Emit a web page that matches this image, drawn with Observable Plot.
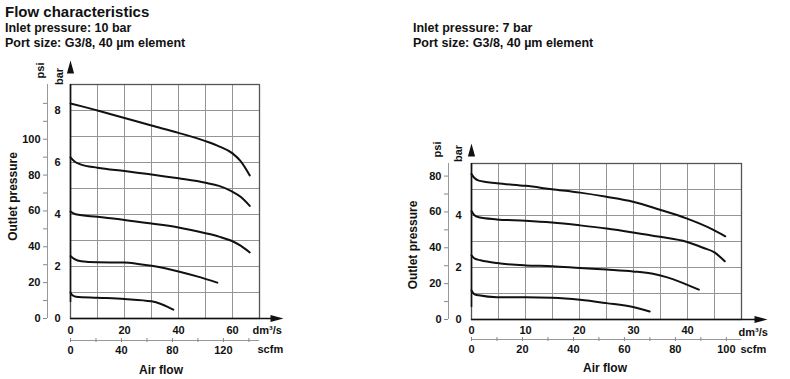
<!DOCTYPE html>
<html>
<head>
<meta charset="utf-8">
<script src="https://cdn.jsdelivr.net/npm/d3@7"></script>
<script src="https://cdn.jsdelivr.net/npm/@observablehq/plot@0.6"></script>
<style>
  body { margin: 0; background: #fff; }
  #wrap { position: relative; width: 790px; height: 379px; overflow: hidden;
          font-family: "Liberation Sans", Arial, sans-serif; color: #111; }
  .t { position: absolute; white-space: nowrap; line-height: 1; font-weight: bold; }
  .chart { position: absolute; }
</style>
</head>
<body>
<div id="wrap">
  <div class="t" style="left:5px;top:4px;font-size:15px">Flow characteristics</div>
  <div class="t" style="left:5px;top:22px;font-size:12.5px">Inlet pressure: 10 bar</div>
  <div class="t" style="left:5px;top:37px;font-size:12.5px">Port size: G3/8, 40 µm element</div>
  <div class="t" style="left:413px;top:22px;font-size:12.5px">Inlet pressure: 7 bar</div>
  <div class="t" style="left:413px;top:37px;font-size:12.5px">Port size: G3/8, 40 µm element</div>
  <div class="chart" id="left" style="left:0px;top:55px"></div>
  <div class="chart" id="right" style="left:400px;top:135px"></div>
</div>
<script>
// unit conversions
const BAR_TO_PSI = 14.5038;
const DM3S_TO_SCFM = 2.11888;

// ---------- Left chart: inlet 10 bar ----------
const leftFlowTicks = [0, 20, 40, 60];
const leftGridX = [0, 10, 20, 30, 40, 50, 60, 70];
const leftBarTicks = [0, 2, 4, 6, 8];
const leftGridY = [0, 1, 2, 3, 4, 5, 6, 7, 8, 9];
const leftPsiTicks = [0, 10, 20, 30, 40, 50, 60, 70, 80, 90, 100, 110, 120];
const leftPsiLabels = [0, 20, 40, 60, 80, 100];
const leftScfmTicks = [0, 20, 40, 60, 80, 100, 120, 140];
const leftScfmLabels = [0, 40, 80, 120];

// curves: [air flow dm3/s, outlet pressure bar]
const left8 = [[0, 8.27], [5, 8.14], [10, 8.0], [20, 7.71], [30, 7.42], [40, 7.14], [50, 6.82], [55, 6.62], [60, 6.35], [63, 6.05], [66.4, 5.5]];
const left6 = [[0, 6.2], [1.5, 6.04], [3.7, 5.93], [10, 5.8], [20, 5.67], [30, 5.54], [40, 5.39], [50, 5.22], [55, 5.1], [59.6, 4.9], [63, 4.68], [66.4, 4.33]];
const left4 = [[0, 4.11], [1.9, 4.01], [10, 3.91], [20, 3.79], [30, 3.65], [40, 3.5], [50, 3.28], [55, 3.15], [59.6, 2.99], [63, 2.8], [66.4, 2.54]];
const left2 = [[0, 2.4], [1.5, 2.28], [4, 2.2], [10, 2.16], [20, 2.15], [25, 2.1], [30, 2.03], [35, 1.93], [40, 1.81], [47.2, 1.61], [54.4, 1.38]];
const left1 = [[0, 1.0], [0.6, 0.9], [2, 0.84], [10, 0.8], [20, 0.75], [30, 0.66], [33.5, 0.56], [36, 0.45], [38.1, 0.34]];

// ---------- Right chart: inlet 7 bar ----------
const rightFlowTicks = [0, 10, 20, 30, 40];
const rightGridX = [0, 5, 10, 15, 20, 25, 30, 35, 40, 45, 50];
const rightBarTicks = [0, 2, 4];
const rightGridY = [0, 1, 2, 3, 4, 5, 6];
const rightPsiTicks = [0, 10, 20, 30, 40, 50, 60, 70, 80];
const rightPsiLabels = [0, 20, 40, 60, 80];
const rightScfmTicks = [0, 10, 20, 30, 40, 50, 60, 70, 80, 90, 100];
const rightScfmLabels = [0, 20, 40, 60, 80, 100];

const right6 = [[0, 5.59], [0.5, 5.45], [1.35, 5.34], [4.7, 5.24], [10, 5.14], [14.9, 5.01], [20.1, 4.88], [25, 4.72], [29.9, 4.53], [34.9, 4.22], [39.8, 3.89], [44.7, 3.46], [47, 3.2]];
const right4 = [[0, 4.17], [0.5, 4.02], [1.35, 3.93], [4.7, 3.85], [10, 3.8], [14.9, 3.73], [20.1, 3.62], [25, 3.5], [29.9, 3.35], [34.9, 3.18], [39.8, 2.99], [43, 2.75], [45, 2.58], [46.9, 2.24]];
const right2 = [[0, 2.47], [0.6, 2.34], [1.66, 2.28], [4.7, 2.17], [10, 2.08], [14.9, 2.05], [20.1, 1.98], [25, 1.92], [29.9, 1.85], [33.6, 1.76], [36.1, 1.63], [39.2, 1.4], [42.1, 1.15]];
const right1 = [[0, 1.12], [0.5, 0.98], [1.35, 0.93], [4.7, 0.86], [10, 0.86], [14.9, 0.84], [20.1, 0.76], [25, 0.63], [29.9, 0.48], [33, 0.31]];

const FONT = "Liberation Sans, Arial, Helvetica, sans-serif";

// elongated filled arrow head, pointing up
const arrowHead = {
  draw(context) {
    context.moveTo(0, -6.5);
    context.lineTo(3.6, 6.5);
    context.lineTo(-3.6, 6.5);
    context.closePath();
  }
};

function makeChart(c) {
  const psiPos = c.psiTicks.map(p => p / BAR_TO_PSI);
  const scfmPos = c.scfmTicks.map(s => s / DM3S_TO_SCFM);
  const xMax = c.gridX[c.gridX.length - 1];
  const yMax = c.gridY[c.gridY.length - 1];
  const curveMarks = c.curves.map(data =>
    Plot.line(data, {x: d => d[0], y: d => d[1], curve: "monotone-x", stroke: "#111", strokeWidth: 2})
  );
  return Plot.plot({
    width: c.width, height: c.height,
    marginLeft: c.ml, marginRight: c.mr, marginTop: c.mt, marginBottom: c.mb,
    x: {domain: [0, xMax], label: null},
    y: {domain: [0, yMax], label: null},
    style: {fontFamily: FONT, fontSize: "11px", fontWeight: "bold", color: "#111", background: "transparent", overflow: "visible"},
    marks: [
      // square grid (pixel-aligned, 1px)
      Plot.ruleX(c.gridX, {stroke: "#959595", strokeWidth: 1}),
      Plot.ruleY(c.gridY, {stroke: "#959595", strokeWidth: 1}),
      Plot.frame({stroke: "#555", strokeWidth: 1.3}),
      // bar axis labels
      Plot.axisY(c.barTicks, {anchor: "left", tickSize: 0, tickPadding: 10, label: null, fontSize: 11, fontWeight: "bold"}),
      // psi secondary axis
      Plot.ruleX([0], {y1: () => 0, y2: () => yMax, dx: c.psiDx, stroke: "#999", strokeWidth: 1}),
      Plot.axisY(psiPos, {anchor: "left", dx: c.psiDx, tickSize: 4, tickPadding: 3, stroke: "#888", label: null, fontSize: 11, fontWeight: "bold",
        tickFormat: d => { const p = Math.round(d * BAR_TO_PSI); return c.psiLabels.includes(p) ? String(p) : ""; }}),
      // dm3/s axis labels
      Plot.axisX(c.flowTicks, {anchor: "bottom", tickSize: 0, tickPadding: c.flowPad, label: null, fontSize: 11, fontWeight: "bold"}),
      // scfm secondary axis
      Plot.ruleY([0], {x1: () => 0, x2: () => xMax, dy: c.scfmDy + 2, stroke: "#999", strokeWidth: 1}),
      Plot.axisX(scfmPos, {anchor: "bottom", dy: c.scfmDy, tickSize: 4, tickPadding: 4, stroke: "#888", label: null, fontSize: 11, fontWeight: "bold",
        tickFormat: d => { const s = Math.round(d * DM3S_TO_SCFM); return c.scfmLabels.includes(s) ? String(s) : ""; }}),
      // unit / axis titles
      Plot.text(["dm³/s"], {frameAnchor: "bottom-right", textAnchor: "start", lineAnchor: "middle", dx: c.dmDx, dy: c.dmDy, fontSize: 11, fontWeight: "bold"}),
      Plot.text(["scfm"], {frameAnchor: "bottom-right", textAnchor: "start", lineAnchor: "middle", dx: c.scDx, dy: c.scDy, fontSize: 11, fontWeight: "bold"}),
      Plot.text(["Air flow"], {frameAnchor: "bottom", textAnchor: "middle", lineAnchor: "middle", dx: c.afDx, dy: c.afDy, fontSize: 12, fontWeight: "bold"}),
      Plot.text(["Outlet pressure"], {frameAnchor: "left", textAnchor: "middle", rotate: -90, lineAnchor: "middle", dx: c.opDx, dy: c.opDy, fontSize: 12, fontWeight: "bold"}),
      Plot.text(["psi"], {frameAnchor: "top-left", textAnchor: "middle", rotate: -90, lineAnchor: "middle", dx: c.psiLx, dy: c.psiLy, fontSize: 11, fontWeight: "bold"}),
      Plot.text(["bar"], {frameAnchor: "top-left", textAnchor: "middle", rotate: -90, lineAnchor: "middle", dx: c.barLx, dy: c.barLy, fontSize: 11, fontWeight: "bold"}),
      // main axis lines with arrows
      Plot.ruleX([0], {y1: () => 0, y2: () => yMax, insetTop: -(c.arrowUp - 8), stroke: "#111", strokeWidth: 1.6}),
      Plot.ruleY([0], {x1: () => 0, x2: () => xMax, insetRight: -(c.arrowRight - 8), stroke: "#111", strokeWidth: 1.6}),
      Plot.dot([0], {x: () => 0, y: () => yMax, dy: -(c.arrowUp - 6.5), symbol: arrowHead, fill: "#111", stroke: null, r: 5}),
      Plot.dot([0], {x: () => xMax, y: () => 0, dx: c.arrowRight - 6.5, rotate: 90, symbol: arrowHead, fill: "#111", stroke: null, r: 5}),
      ...curveMarks
    ]
  });
}

// left: 7 columns x 27px, 9 rows x 26px; right: 10 columns x 27px, 6 rows x 26px
const leftCfg = {
  width: 290, height: 324, ml: 70, mr: 31, mt: 29, mb: 61,
  gridX: leftGridX, gridY: leftGridY, barTicks: leftBarTicks, flowTicks: leftFlowTicks,
  psiTicks: leftPsiTicks, psiLabels: leftPsiLabels, scfmTicks: leftScfmTicks, scfmLabels: leftScfmLabels,
  curves: [left8, left6, left4, left2, left1],
  psiDx: -23, flowPad: 8, scfmDy: 20,
  dmDx: -7, dmDy: 12, scDx: -2, scDy: 31, afDx: -4, afDy: 52, opDx: -57, opDy: -5,
  psiLx: -30, psiLy: -14, barLx: -11, barLy: -8, arrowUp: 24, arrowRight: 24
};
const rightCfg = {
  width: 390, height: 244, ml: 71, mr: 49, mt: 28, mb: 60,
  gridX: rightGridX, gridY: rightGridY, barTicks: rightBarTicks, flowTicks: rightFlowTicks,
  psiTicks: rightPsiTicks, psiLabels: rightPsiLabels, scfmTicks: rightScfmTicks, scfmLabels: rightScfmLabels,
  curves: [right6, right4, right2, right1],
  psiDx: -23, flowPad: 7, scfmDy: 18,
  dmDx: -3, dmDy: 13, scDx: -1, scDy: 30, afDx: -1.5, afDy: 49, opDx: -58, opDy: 3.5,
  psiLx: -34, psiLy: -14, barLx: -13, barLy: -10, arrowUp: 20, arrowRight: 26
};

document.getElementById("left").appendChild(makeChart(leftCfg));
document.getElementById("right").appendChild(makeChart(rightCfg));
</script>
</body>
</html>
